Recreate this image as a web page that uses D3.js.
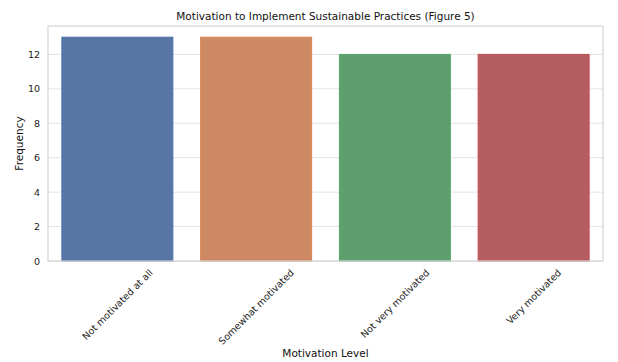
<!DOCTYPE html>
<html>
<head>
<meta charset="utf-8">
<script src="https://cdn.jsdelivr.net/npm/d3@7"></script>
<style>
  body { margin: 0; background: #fff; }
  svg { display: block; font-family: "DejaVu Sans", sans-serif; }
</style>
</head>
<body>
<div id="chart"></div>
<script>
const categories = ["Not motivated at all", "Somewhat motivated", "Not very motivated", "Very motivated"];
const counts = [13, 13, 12, 12];
const yTicks = [0, 2, 4, 6, 8, 10, 12];
const fills = ["#5975a4", "#cc8963", "#5f9e6e", "#b55d60"];
const edges = ["#4c72b0", "#dd8452", "#55a868", "#c44e52"];

const width = 618;
const height = 362;
const marginTop = 26;
const marginRight = 15;
const marginBottom = 101;
const marginLeft = 48;

const x = d3.scaleBand()
    .domain(categories)
    .range([marginLeft, width - marginRight])
    .paddingInner(0.2)
    .paddingOuter(0.1);

const y = d3.scaleLinear()
    .domain([0, d3.max(counts) * 1.05])
    .range([height - marginBottom, marginTop]);

const svg = d3.select("#chart").append("svg")
    .attr("width", width)
    .attr("height", height)
    .attr("viewBox", [0, 0, width, height]);

// grid
svg.append("g")
    .selectAll("line")
    .data(yTicks)
    .join("line")
    .attr("x1", marginLeft)
    .attr("x2", width - marginRight)
    .attr("y1", d => y(d))
    .attr("y2", d => y(d))
    .attr("stroke", "#e4e4e4")
    .attr("stroke-width", 1);

// bars
svg.append("g")
    .selectAll("rect")
    .data(categories)
    .join("rect")
    .attr("x", d => x(d))
    .attr("y", (d, i) => y(counts[i]))
    .attr("width", x.bandwidth())
    .attr("height", (d, i) => y(0) - y(counts[i]))
    .attr("fill", (d, i) => fills[i])
    .attr("stroke", (d, i) => edges[i])
    .attr("stroke-width", 1);

// frame
svg.append("rect")
    .attr("x", marginLeft)
    .attr("y", marginTop)
    .attr("width", width - marginRight - marginLeft)
    .attr("height", height - marginBottom - marginTop)
    .attr("fill", "none")
    .attr("stroke", "#d4d4d4")
    .attr("stroke-width", 1.2);

// y axis
svg.append("g")
    .attr("transform", `translate(${marginLeft},0)`)
    .call(d3.axisLeft(y).tickValues(yTicks).tickSize(0).tickPadding(8))
    .call(g => g.select(".domain").remove())
    .call(g => g.selectAll("text")
        .attr("font-family", "DejaVu Sans, sans-serif")
        .attr("font-size", 9.5)
        .attr("fill", "#222"));

// x axis labels, rotated 45 and centred on tick
const xLabels = svg.append("g")
    .selectAll("text")
    .data(categories)
    .join("text")
    .attr("font-size", 9.5)
    .attr("fill", "#222")
    .attr("text-anchor", "middle")
    .attr("dominant-baseline", "central")
    .text(d => d);

xLabels.each(function (d) {
    const t = d3.select(this);
    const len = this.getComputedTextLength();
    const h = 11;
    const half = (len + h) * Math.SQRT1_2 / 2;
    const cx = x(d) + x.bandwidth() / 2;
    const cy = height - marginBottom + 6 + half;
    t.attr("transform", `translate(${cx},${cy}) rotate(-45)`);
});

// title
svg.append("text")
    .attr("x", (marginLeft + width - marginRight) / 2)
    .attr("y", 20)
    .attr("text-anchor", "middle")
    .attr("font-size", 10.5)
    .attr("fill", "#111")
    .text("Motivation to Implement Sustainable Practices (Figure 5)");

// axis titles
svg.append("text")
    .attr("x", (marginLeft + width - marginRight) / 2)
    .attr("y", 357)
    .attr("text-anchor", "middle")
    .attr("font-size", 10.5)
    .attr("fill", "#111")
    .text("Motivation Level");

svg.append("text")
    .attr("transform", `translate(23,${(marginTop + height - marginBottom) / 2}) rotate(-90)`)
    .attr("text-anchor", "middle")
    .attr("font-size", 10.5)
    .attr("fill", "#111")
    .text("Frequency");
</script>
</body>
</html>
